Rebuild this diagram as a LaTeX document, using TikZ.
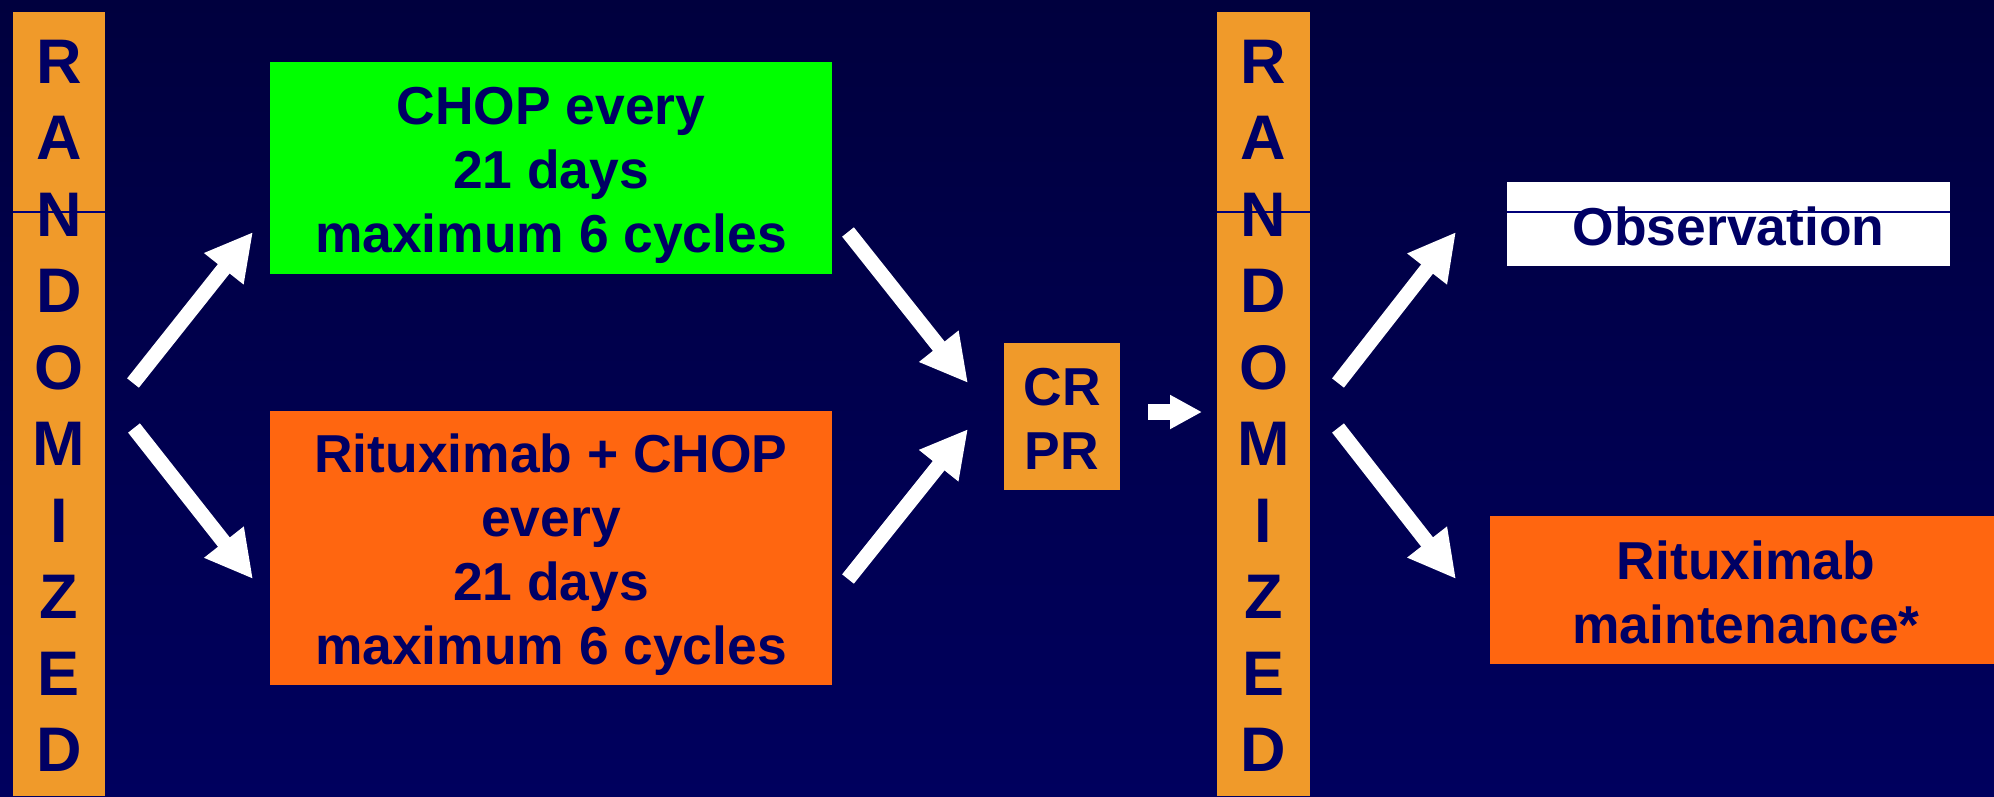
\documentclass[tikz,border=0pt]{standalone}
\usepackage{fontspec}
\setmainfont{Liberation Sans}
\usetikzlibrary{arrows.meta}
\definecolor{bgtop}{RGB}{0,0,62}
\definecolor{bgbot}{RGB}{0,0,94}
\definecolor{navytxt}{RGB}{0,0,100}
\definecolor{navyline}{RGB}{0,0,120}
\definecolor{barorange}{RGB}{240,154,42}
\definecolor{boxorange}{RGB}{255,102,16}
\definecolor{boxgreen}{RGB}{0,255,0}
\newcommand\boxfont{\fontsize{53.4}{64.3}\selectfont\bfseries}
\newcommand\randfont{\fontsize{63}{76.5}\selectfont\bfseries}
\begin{document}
\begin{tikzpicture}[x=1pt,y=-1pt,
  panel/.style={draw=none, inner sep=0pt, outer sep=0pt},
  rbar/.style={panel, fill=barorange, minimum height=784pt},
  txt/.style={inner sep=0pt, text=navytxt, anchor=base},
  bigarrow/.style={draw=white, line width=15pt, -{Triangle[length=47pt,width=47pt]}},
  smallarrow/.style={draw=white, line width=16pt, -{Triangle[length=32pt,width=32pt]}},
  sepline/.style={draw=navyline, line width=1.5pt}
]
\shade[top color=bgtop, bottom color=bgbot] (0,0) rectangle (1994,796);
\useasboundingbox (0,0) rectangle (1994,796);

% randomization bars
\node[rbar, minimum width=92pt] (rand1) at (59,404) {};
\node[rbar, minimum width=93pt] (rand2) at (1263.5,404) {};

% boxes
\node[panel, fill=boxgreen, minimum width=562pt, minimum height=212pt] (chop) at (551,168) {};
\node[panel, fill=boxorange, minimum width=562pt, minimum height=274pt] (rchop) at (551,548) {};
\node[panel, fill=barorange, minimum width=116pt, minimum height=147pt] (crpr) at (1062,416.5) {};
\node[panel, fill=white, minimum width=443pt, minimum height=84pt] (obs) at (1728.5,224) {};
\node[panel, fill=boxorange, minimum width=512pt, minimum height=148pt] (maint) at (1746,590) {};

% thin lines across bars and observation box
\draw[sepline] (rand1.west |- 0,212) -- (rand1.east |- 0,212);
\draw[sepline] (rand2.west |- 0,212) -- (rand2.east |- 0,212);
\draw[sepline] (obs.west |- 0,212) -- (obs.east |- 0,212);

% texts
\node[txt] (rand1t) at (59,83) {\randfont\begin{tabular}[t]{@{}c@{}}R\\A\\N\\D\\O\\M\\I\\Z\\E\\D\end{tabular}};
\node[txt] (rand2t) at (1263.5,83) {\randfont\begin{tabular}[t]{@{}c@{}}R\\A\\N\\D\\O\\M\\I\\Z\\E\\D\end{tabular}};
\node[txt] (chopt) at (551,124) {\boxfont\begin{tabular}[t]{@{}c@{}}CHOP every\\21 days\\maximum 6 cycles\end{tabular}};
\node[txt] (rchopt) at (551,472) {\boxfont\begin{tabular}[t]{@{}c@{}}Rituximab + CHOP\\every\\21 days\\maximum 6 cycles\end{tabular}};
\node[txt] (crprt) at (1062,405) {\boxfont\begin{tabular}[t]{@{}c@{}}CR\\PR\end{tabular}};
\node[txt] (obst) at (1728.5,245) {\boxfont Observation};
\node[txt] (maintt) at (1746,579) {\boxfont\begin{tabular}[t]{@{}c@{}}Rituximab\\maintenance*\end{tabular}};

% arrow end points
\coordinate (a1s) at (133,383); \coordinate (a1e) at (253,232);
\coordinate (a2s) at (134,428); \coordinate (a2e) at (253,579);
\coordinate (a3s) at (848,232); \coordinate (a3e) at (968,383);
\coordinate (a4s) at (848,579); \coordinate (a4e) at (968,429);
\coordinate (a5s) at (1148,412); \coordinate (a5e) at (1202,412);
\coordinate (a6s) at (1338,383); \coordinate (a6e) at (1456,232);
\coordinate (a7s) at (1338,428); \coordinate (a7e) at (1456,579);

\draw[bigarrow] (a1s) -- (a1e);
\draw[bigarrow] (a2s) -- (a2e);
\draw[bigarrow] (a3s) -- (a3e);
\draw[bigarrow] (a4s) -- (a4e);
\draw[smallarrow] (a5s) -- (a5e);
\draw[bigarrow] (a6s) -- (a6e);
\draw[bigarrow] (a7s) -- (a7e);
\end{tikzpicture}
\end{document}
